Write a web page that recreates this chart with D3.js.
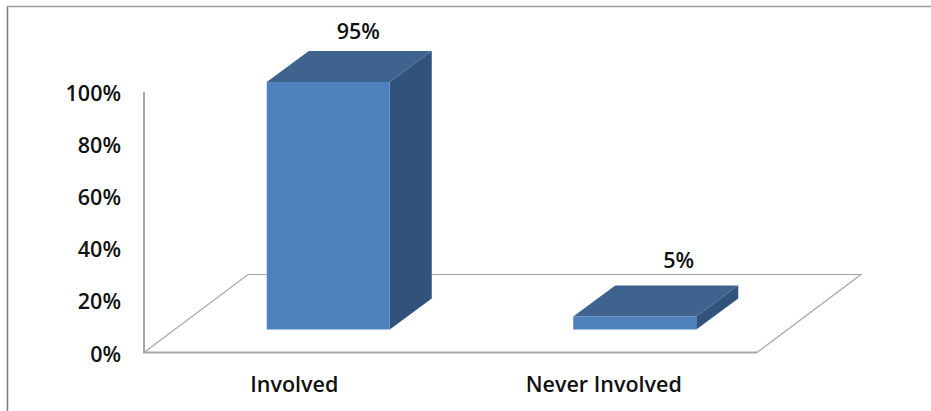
<!DOCTYPE html>
<html><head><meta charset="utf-8">
<script src="https://cdn.jsdelivr.net/npm/d3@7/dist/d3.min.js"></script>
<style>html,body{margin:0;padding:0;background:#fff}svg{display:block}text{font-family:"Open Sans","DejaVu Sans",sans-serif;font-weight:600;fill:#111}</style>
</head><body><svg id="c" width="931" height="411"></svg>
<script>
const categories = ["Involved", "Never Involved"];
const values = [95, 5];
const valueLabels = ["95%", "5%"];
const tickValues = [0, 20, 40, 60, 80, 100];

const svg = d3.select("#c");
const y = d3.scaleLinear().domain([0, 100]).range([352.5, 92]);
const x = d3.scaleBand().domain(categories).range([144, 757]);
const floorDx = 104, floorDy = -78, barDx = 42, barDy = -31, shiftX = 31, shiftY = -23, barW = 123, fs = 21.5;
const labelNudge = {"Involved": [30, -12], "Never Involved": [44, -17]};
const catNudge = {"Involved": -3, "Never Involved": 0};

svg.append("path").attr("d", "M7.5,411V6").attr("fill", "none").attr("stroke", "#7a7a7a").attr("stroke-width", 1.5);
svg.append("path").attr("d", "M7,6.5H931").attr("fill", "none").attr("stroke", "#9c9c9c").attr("stroke-width", 1.5);

const grey = "#a6a6a6";
const [x0, x1] = x.range();
svg.append("path").attr("fill", "none").attr("stroke", grey).attr("stroke-width", 1.2)
  .attr("d", `M${x0},${y(0)}L${x0 + floorDx},${y(0) + floorDy}H${x1 + floorDx}L${x1},${y(0)}`);
svg.append("path").attr("fill", "none").attr("stroke", grey).attr("stroke-width", 2)
  .attr("d", `M${x0},${y(100)}V${y(0)}H${x1}`);

const bars = svg.selectAll("g.bar").data(categories.map((c, i) => ({c, v: values[i], l: valueLabels[i]}))).join("g").attr("class", "bar");
const barLeft = d => x(d.c) + x.bandwidth() / 2 + shiftX - barW / 2;
const barTop = d => y(d.v) + shiftY;
const base = y(0) + shiftY;
bars.append("path").attr("fill", "#31527a")
  .attr("d", d => `M${barLeft(d) + barW},${barTop(d)}l${barDx},${barDy}V${base + barDy}l${-barDx},${-barDy}Z`);
bars.append("path").attr("fill", "#3e638f")
  .attr("d", d => `M${barLeft(d)},${barTop(d)}l${barDx},${barDy}h${barW}l${-barDx},${-barDy}Z`);
bars.append("rect").attr("fill", "#4f81bd")
  .attr("x", barLeft).attr("y", barTop).attr("width", barW).attr("height", d => base - barTop(d));
bars.append("text").attr("text-anchor", "middle").attr("font-size", fs)
  .attr("x", d => barLeft(d) + barW / 2 + labelNudge[d.c][0]).attr("y", d => barTop(d) + barDy + labelNudge[d.c][1]).text(d => d.l);

svg.selectAll("text.tick").data(tickValues).join("text").attr("class", "tick")
  .attr("text-anchor", "end").attr("font-size", fs).attr("x", 121).attr("y", d => y(d) + 9).text(d => d + "%");
svg.selectAll("text.cat").data(categories).join("text").attr("class", "cat")
  .attr("text-anchor", "middle").attr("font-size", fs)
  .attr("x", d => x(d) + x.bandwidth() / 2 + catNudge[d]).attr("y", 392).text(d => d);
</script></body></html>
